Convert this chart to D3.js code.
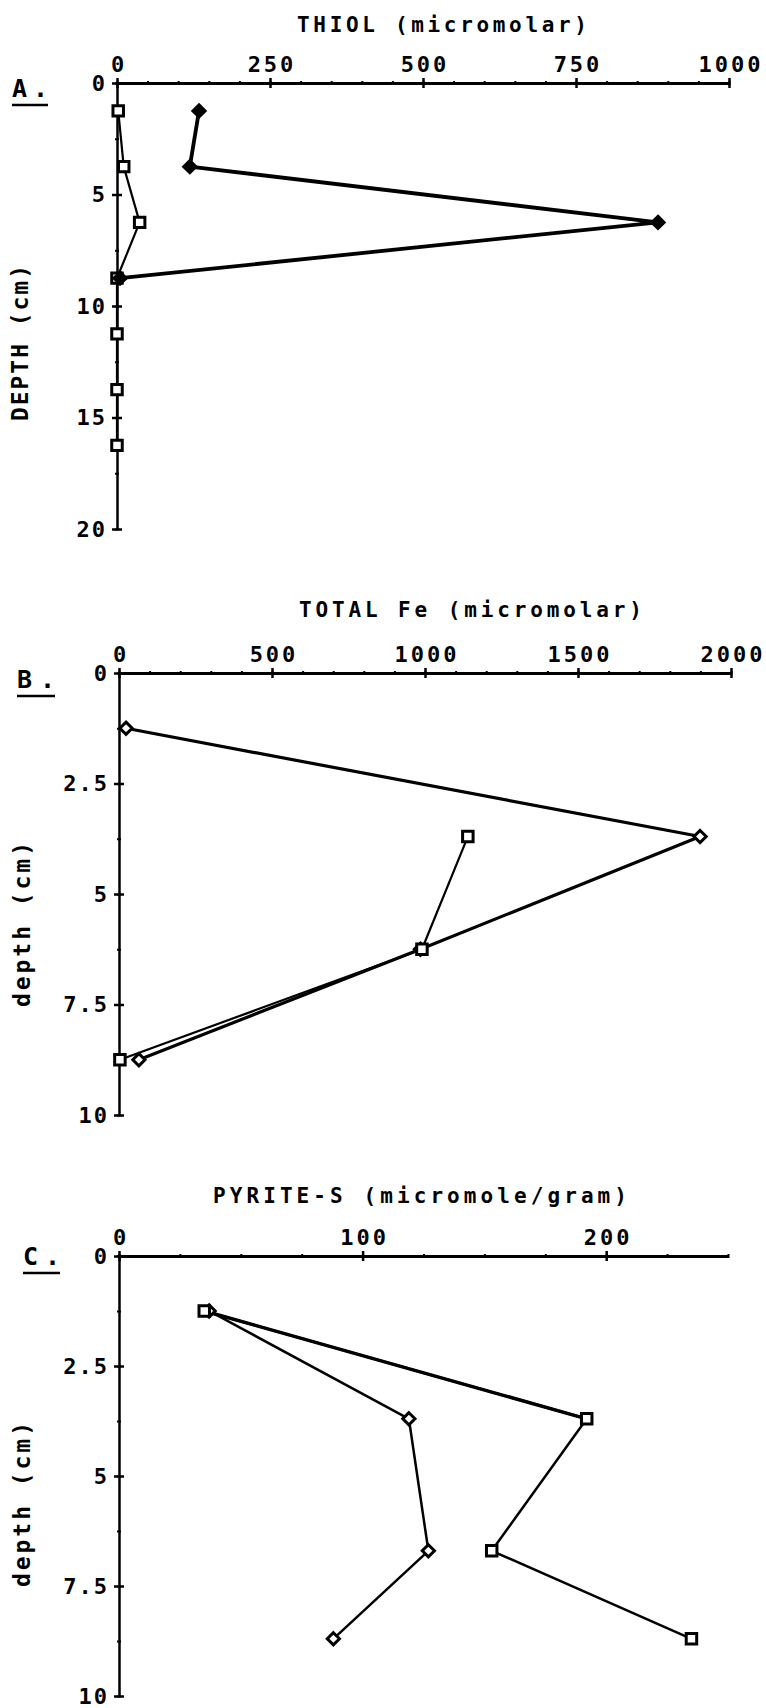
<!DOCTYPE html>
<html>
<head>
<meta charset="utf-8">
<script src="https://cdn.jsdelivr.net/npm/d3@7"></script>
<style>
  body { margin: 0; background: #fff; }
  text { font-family: "DejaVu Sans Mono", monospace; font-weight: bold; fill: #000; }
</style>
</head>
<body>
<script>
// ---- data ----
// A. thiol (micromolar) vs depth (cm)
const thiolDepthDiamond = [1.25, 3.75, 6.25, 8.75];
const thiolDiamond = [134, 119, 884, 5];
const thiolDepthSquare = [1.25, 3.75, 6.25, 8.75, 11.25, 13.75, 16.25];
const thiolSquare = [2, 11, 37, 0, 0, 0, 0];
const thiolTicksX = [0, 250, 500, 750, 1000];
const thiolTicksY = [0, 5, 10, 15, 20];

// B. total Fe (micromolar) vs depth (cm)
const feDepthDiamond = [1.25, 3.7, 6.25, 8.75];
const feDiamond = [23, 1899, 985, 65];
const feDepthSquare = [3.7, 6.25, 8.75];
const feSquare = [1140, 990, 3];
const feTicksX = [0, 500, 1000, 1500, 2000];
const feTicksY = [0, 2.5, 5, 7.5, 10];

// C. pyrite-S (micromole/gram) vs depth (cm)
const pyDepthDiamond = [1.25, 3.7, 6.7, 8.7];
const pyDiamond = [37, 119, 127, 88];
const pyDepthSquare = [1.25, 3.7, 6.7, 8.7];
const pySquare = [35, 192, 153, 235];
const pyTicksX = [0, 100, 200];
const pyTicksY = [0, 2.5, 5, 7.5, 10];

const svg = d3.select("body").append("svg")
  .attr("width", 766)
  .attr("height", 1708);

svg.append("rect").attr("width", 766).attr("height", 1708).attr("fill", "#fff");

const diamondType = d3.symbolDiamond2 || d3.symbolDiamond;

function drawPanel(p) {
  const g = svg.append("g");
  const x = d3.scaleLinear().domain([0, p.xMax]).range([p.x0, p.x1]);
  const y = d3.scaleLinear().domain([0, p.yMax]).range([p.y0, p.y1]);
  const fmt = (d) => String(d);

  // x axis, labelled on top, tick crosses
  const xa = g.append("g").attr("transform", `translate(0,${p.y0})`)
    .call(d3.axisTop(x).tickValues(p.ticksX).tickFormat(fmt)
      .tickSizeInner(5).tickSizeOuter(0).tickPadding(6));
  xa.attr("font-size", null).attr("font-family", null);
  xa.select(".domain").attr("stroke-width", 3);
  xa.selectAll(".tick line").attr("stroke-width", 2.5);
  xa.selectAll(".tick text").attr("font-size", 22).attr("letter-spacing", 3).attr("dx", 1.5);
  const xb = g.append("g").attr("transform", `translate(0,${p.y0})`)
    .call(d3.axisBottom(x).tickValues(p.ticksX).tickFormat("").tickSizeInner(5).tickSizeOuter(0));
  xb.select(".domain").remove();
  xb.selectAll(".tick line").attr("stroke-width", 2.5);
  const xm = g.append("g").attr("transform", `translate(0,${p.y0 - 2})`)
    .call(d3.axisBottom(x).tickValues(d3.range(0, p.xMax + 1e-9, p.minorX)).tickFormat("").tickSizeInner(4).tickSizeOuter(0));
  xm.select(".domain").remove();
  xm.selectAll(".tick line").attr("stroke-width", 2);

  // y axis, labelled on left
  const ya = g.append("g").attr("transform", `translate(${p.x0},0)`)
    .call(d3.axisLeft(y).tickValues(p.ticksY).tickFormat(fmt)
      .tickSizeInner(5).tickSizeOuter(0).tickPadding(7));
  ya.attr("font-size", null).attr("font-family", null);
  ya.select(".domain").attr("stroke-width", 2.5);
  ya.selectAll(".tick line").attr("stroke-width", 2.5);
  ya.selectAll(".tick text").attr("font-size", 22).attr("letter-spacing", 2).attr("dx", 2);
  const yb = g.append("g").attr("transform", `translate(${p.x0},0)`)
    .call(d3.axisRight(y).tickValues(p.ticksY).tickFormat("").tickSizeInner(5).tickSizeOuter(0));
  yb.select(".domain").remove();
  yb.selectAll(".tick line").attr("stroke-width", 2.5);
  const ym = g.append("g").attr("transform", `translate(${p.x0 - 2},0)`)
    .call(d3.axisRight(y).tickValues(d3.range(0, p.yMax + 1e-9, p.minorY)).tickFormat("").tickSizeInner(4).tickSizeOuter(0));
  ym.select(".domain").remove();
  ym.selectAll(".tick line").attr("stroke-width", 2);

  // titles
  g.append("text")
    .attr("x", p.titleX).attr("y", p.titleY)
    .attr("font-size", 21)
    .attr("textLength", p.titleLen).attr("lengthAdjust", "spacing")
    .text(p.title);

  g.append("text")
    .attr("transform", `translate(${p.yLabX},${p.yLabY}) rotate(-90)`)
    .attr("font-size", 23)
    .attr("textLength", p.yLabLen).attr("lengthAdjust", "spacing")
    .text(p.yLabel);

  g.append("text")
    .attr("x", p.tagX).attr("y", p.tagY)
    .attr("font-size", 25)
    .attr("textLength", p.tagW).attr("lengthAdjust", "spacing")
    .text(p.tag);
  g.append("line")
    .attr("x1", p.tagX).attr("x2", p.tagX + p.tagW)
    .attr("y1", p.tagY + 8).attr("y2", p.tagY + 8)
    .attr("stroke", "#000").attr("stroke-width", 2.5);

  // series
  const line = d3.line().x((d) => x(d[0])).y((d) => y(d[1]));
  p.series.forEach((s) => {
    const pts = s.values.map((v, i) => [v, s.depths[i]]);
    g.append("path")
      .datum(pts)
      .attr("d", line)
      .attr("fill", "none")
      .attr("stroke", "#000")
      .attr("stroke-width", s.width)
      .attr("stroke-linejoin", "round");
    if (s.firstWidth) {
      g.append("path")
        .datum(pts.slice(0, 2))
        .attr("d", line)
        .attr("fill", "none")
        .attr("stroke", "#000")
        .attr("stroke-width", s.firstWidth);
    }
  });
  p.series.forEach((s) => {
    const pts = s.values.map((v, i) => [v, s.depths[i]]);
    const sym = d3.symbol()
      .type(s.shape === "diamond" ? diamondType : d3.symbolSquare)
      .size(s.shape === "diamond" ? 95 : 110);
    g.selectAll(null)
      .data(pts)
      .join("path")
      .attr("transform", (d) => `translate(${x(d[0])},${y(d[1])})`)
      .attr("d", sym)
      .attr("fill", s.fill)
      .attr("stroke", "#000")
      .attr("stroke-width", 3);
  });
}

drawPanel({
  tag: "A.", tagX: 12, tagY: 97, tagW: 36,
  title: "THIOL (micromolar)", titleX: 297, titleY: 32, titleLen: 290,
  yLabel: "DEPTH (cm)", yLabX: 28, yLabY: 421, yLabLen: 156,
  xMax: 1000, x0: 117, x1: 729, yMax: 20, y0: 83, y1: 529,
  ticksX: thiolTicksX, ticksY: thiolTicksY, minorX: 50, minorY: 2.5,
  series: [
    { values: thiolSquare, depths: thiolDepthSquare, shape: "square", fill: "#fff", width: 2.2 },
    { values: thiolDiamond, depths: thiolDepthDiamond, shape: "diamond", fill: "#000", width: 3.8 }
  ]
});

drawPanel({
  tag: "B.", tagX: 17, tagY: 688, tagW: 38,
  title: "TOTAL Fe (micromolar)", titleX: 299, titleY: 617, titleLen: 343,
  yLabel: "depth (cm)", yLabX: 30, yLabY: 1007, yLabLen: 165,
  xMax: 2000, x0: 119, x1: 731, yMax: 10, y0: 673, y1: 1115,
  ticksX: feTicksX, ticksY: feTicksY, minorX: 100, minorY: 1.25,
  series: [
    { values: feDiamond, depths: feDepthDiamond, shape: "diamond", fill: "#fff", width: 3.2 },
    { values: feSquare, depths: feDepthSquare, shape: "square", fill: "#fff", width: 2.2 }
  ]
});

drawPanel({
  tag: "C.", tagX: 23, tagY: 1265, tagW: 37,
  title: "PYRITE-S (micromole/gram)", titleX: 213, titleY: 1203, titleLen: 414,
  yLabel: "depth (cm)", yLabX: 30, yLabY: 1587, yLabLen: 165,
  xMax: 250, x0: 119, x1: 728, yMax: 10, y0: 1256, y1: 1696,
  ticksX: pyTicksX, ticksY: pyTicksY, minorX: 25, minorY: 1.25,
  series: [
    { values: pyDiamond, depths: pyDepthDiamond, shape: "diamond", fill: "#fff", width: 2.5 },
    { values: pySquare, depths: pyDepthSquare, shape: "square", fill: "#fff", width: 2.5, firstWidth: 3.4 }
  ]
});
</script>
</body>
</html>
